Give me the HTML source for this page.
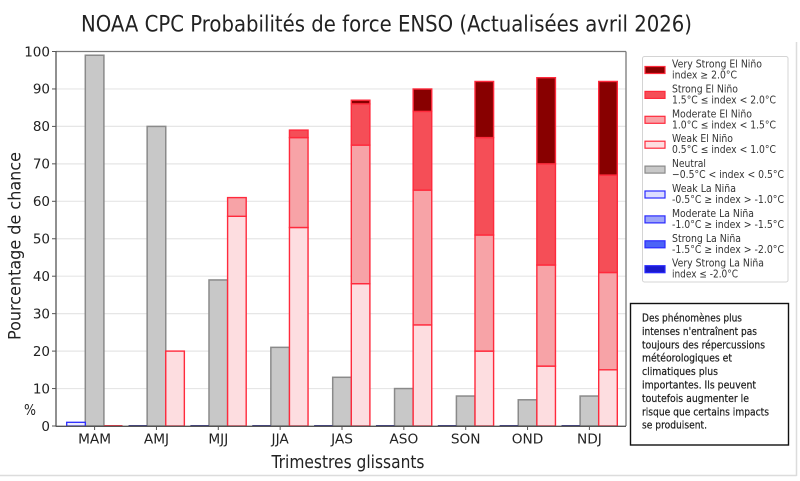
<!DOCTYPE html>
<html><head><meta charset="utf-8"><style>
html,body{margin:0;padding:0;background:#fff;}
svg{display:block;}
text{font-family:"DejaVu Sans","Liberation Sans",sans-serif;}
</style></head><body>
<svg width="800" height="481" viewBox="0 0 800 481" xmlns="http://www.w3.org/2000/svg">
<rect width="800" height="481" fill="#fff"/>
<!-- outer frame -->
<line x1="0" y1="475.5" x2="796.5" y2="475.5" stroke="#dcdcdc" stroke-width="1.5"/>
<line x1="796.5" y1="42" x2="796.5" y2="476" stroke="#dcdcdc" stroke-width="1.5"/>

<!-- title -->
<text x="81" y="31.5" font-size="22.5" fill="#222" textLength="611" lengthAdjust="spacingAndGlyphs" font-family="Liberation Sans, sans-serif">NOAA CPC Probabilités de force ENSO (Actualisées avril 2026)</text>

<!-- gridlines -->
<g stroke="#e6e6e6" stroke-width="1.2">
<line x1="56" x2="626" y1="388.55" y2="388.55"/>
<line x1="56" x2="626" y1="351.1" y2="351.1"/>
<line x1="56" x2="626" y1="313.65" y2="313.65"/>
<line x1="56" x2="626" y1="276.2" y2="276.2"/>
<line x1="56" x2="626" y1="238.75" y2="238.75"/>
<line x1="56" x2="626" y1="201.3" y2="201.3"/>
<line x1="56" x2="626" y1="163.85" y2="163.85"/>
<line x1="56" x2="626" y1="126.4" y2="126.4"/>
<line x1="56" x2="626" y1="88.95" y2="88.95"/>
</g>

<!-- neutral bars -->
<g fill="#c8c8c8" stroke="#8a8a8a" stroke-width="1.5">
<rect x="85.3" y="55.24" width="18.6" height="370.76"/>
<rect x="147.15" y="126.4" width="18.6" height="299.6"/>
<rect x="209.0" y="279.95" width="18.6" height="146.05"/>
<rect x="270.85" y="347.35" width="18.6" height="78.65"/>
<rect x="332.7" y="377.3" width="18.6" height="48.7"/>
<rect x="394.55" y="388.55" width="18.6" height="37.45"/>
<rect x="456.4" y="396.04" width="18.6" height="29.96"/>
<rect x="518.25" y="399.8" width="18.6" height="26.2"/>
<rect x="580.1" y="396.04" width="18.6" height="29.96"/>
</g>

<!-- La Nina -->
<rect x="66.7" y="422.3" width="18.6" height="3.7" fill="#eaeaff" stroke="#2a2aff" stroke-width="1.3"/>
<g stroke="#3b3b8e" stroke-width="2">
<line x1="128.55" x2="147.15" y1="426" y2="426"/>
<line x1="190.4" x2="209.0" y1="426" y2="426"/>
<line x1="252.25" x2="270.85" y1="426" y2="426"/>
<line x1="314.1" x2="332.7" y1="426" y2="426"/>
<line x1="375.95" x2="394.55" y1="426" y2="426"/>
<line x1="437.8" x2="456.4" y1="426" y2="426"/>
<line x1="499.65" x2="518.25" y1="426" y2="426"/>
<line x1="561.5" x2="580.1" y1="426" y2="426"/>
</g>
<line x1="103.9" x2="122.5" y1="426" y2="426" stroke="#ff3040" stroke-width="2"/>

<!-- El Nino stacks -->
<g stroke="#ff2a3c" stroke-width="1.4">
<!-- AMJ -->
<rect x="165.75" y="351.1" width="18.6" height="74.9" fill="#fddde0"/>
<!-- MJJ -->
<rect x="227.6" y="216.3" width="18.6" height="209.7" fill="#fddde0"/>
<rect x="227.6" y="197.6" width="18.6" height="18.7" fill="#f7a3a7"/>
<!-- JJA -->
<rect x="289.45" y="227.5" width="18.6" height="198.5" fill="#fddde0"/>
<rect x="289.45" y="137.6" width="18.6" height="89.9" fill="#f7a3a7"/>
<rect x="289.45" y="130.1" width="18.6" height="7.5" fill="#f54e57"/>
<!-- JAS -->
<rect x="351.3" y="283.7" width="18.6" height="142.3" fill="#fddde0"/>
<rect x="351.3" y="145.1" width="18.6" height="138.6" fill="#f7a3a7"/>
<rect x="351.3" y="103.9" width="18.6" height="41.2" fill="#f54e57"/>
<rect x="351.3" y="100.2" width="18.6" height="3.7" fill="#880000"/>
<!-- ASO -->
<rect x="413.15" y="324.9" width="18.6" height="101.1" fill="#fddde0"/>
<rect x="413.15" y="190.1" width="18.6" height="134.8" fill="#f7a3a7"/>
<rect x="413.15" y="111.4" width="18.6" height="78.7" fill="#f54e57"/>
<rect x="413.15" y="89.0" width="18.6" height="22.4" fill="#880000"/>
<!-- SON -->
<rect x="475.0" y="351.1" width="18.6" height="74.9" fill="#fddde0"/>
<rect x="475.0" y="235.0" width="18.6" height="116.1" fill="#f7a3a7"/>
<rect x="475.0" y="137.6" width="18.6" height="97.4" fill="#f54e57"/>
<rect x="475.0" y="81.46" width="18.6" height="56.14" fill="#880000"/>
<!-- OND -->
<rect x="536.85" y="366.1" width="18.6" height="59.9" fill="#fddde0"/>
<rect x="536.85" y="265.0" width="18.6" height="101.1" fill="#f7a3a7"/>
<rect x="536.85" y="163.85" width="18.6" height="101.15" fill="#f54e57"/>
<rect x="536.85" y="77.7" width="18.6" height="86.15" fill="#880000"/>
<!-- NDJ -->
<rect x="598.7" y="369.8" width="18.6" height="56.2" fill="#fddde0"/>
<rect x="598.7" y="272.5" width="18.6" height="97.3" fill="#f7a3a7"/>
<rect x="598.7" y="175.1" width="18.6" height="97.4" fill="#f54e57"/>
<rect x="598.7" y="81.46" width="18.6" height="93.64" fill="#880000"/>
</g>

<!-- spines -->
<line x1="56" y1="51.5" x2="626" y2="51.5" stroke="#7a7a7a" stroke-width="1.3"/>
<line x1="626" y1="51.5" x2="626" y2="426" stroke="#7a7a7a" stroke-width="1.3"/>
<line x1="56" y1="51" x2="56" y2="426.7" stroke="#555" stroke-width="1.3"/>
<line x1="56" y1="426.3" x2="626" y2="426.3" stroke="#555" stroke-width="1.3"/>

<!-- y ticks -->
<g stroke="#555" stroke-width="1">
<line x1="52" x2="56" y1="426" y2="426"/>
<line x1="52" x2="56" y1="388.55" y2="388.55"/>
<line x1="52" x2="56" y1="351.1" y2="351.1"/>
<line x1="52" x2="56" y1="313.65" y2="313.65"/>
<line x1="52" x2="56" y1="276.2" y2="276.2"/>
<line x1="52" x2="56" y1="238.75" y2="238.75"/>
<line x1="52" x2="56" y1="201.3" y2="201.3"/>
<line x1="52" x2="56" y1="163.85" y2="163.85"/>
<line x1="52" x2="56" y1="126.4" y2="126.4"/>
<line x1="52" x2="56" y1="88.95" y2="88.95"/>
<line x1="52" x2="56" y1="51.5" y2="51.5"/>
</g>
<g font-size="13.5" fill="#222" text-anchor="end">
<text x="50" y="430.8">0</text>
<text x="50" y="393.3">10</text>
<text x="50" y="355.9">20</text>
<text x="50" y="318.4">30</text>
<text x="50" y="281">40</text>
<text x="50" y="243.5">50</text>
<text x="50" y="206.1">60</text>
<text x="50" y="168.6">70</text>
<text x="50" y="131.2">80</text>
<text x="50" y="93.7">90</text>
<text x="50" y="56.3">100</text>
</g>

<!-- x ticks -->
<g stroke="#555" stroke-width="1">
<line x1="94.6" x2="94.6" y1="426" y2="430"/>
<line x1="156.45" x2="156.45" y1="426" y2="430"/>
<line x1="218.3" x2="218.3" y1="426" y2="430"/>
<line x1="280.15" x2="280.15" y1="426" y2="430"/>
<line x1="342" x2="342" y1="426" y2="430"/>
<line x1="403.85" x2="403.85" y1="426" y2="430"/>
<line x1="465.7" x2="465.7" y1="426" y2="430"/>
<line x1="527.55" x2="527.55" y1="426" y2="430"/>
<line x1="589.4" x2="589.4" y1="426" y2="430"/>
</g>
<g font-size="13.7" fill="#222" text-anchor="middle">
<text x="94.6" y="443.3">MAM</text>
<text x="156.45" y="443.3">AMJ</text>
<text x="218.3" y="443.3">MJJ</text>
<text x="280.15" y="443.3">JJA</text>
<text x="342" y="443.3">JAS</text>
<text x="403.85" y="443.3">ASO</text>
<text x="465.7" y="443.3">SON</text>
<text x="527.55" y="443.3">OND</text>
<text x="589.4" y="443.3">NDJ</text>
</g>

<!-- axis labels -->
<text x="271.5" y="468" font-size="17.5" fill="#222" textLength="153" lengthAdjust="spacingAndGlyphs">Trimestres glissants</text>
<text transform="translate(20.5,340) rotate(-90)" x="0" y="0" font-size="17" fill="#222" textLength="188" lengthAdjust="spacingAndGlyphs">Pourcentage de chance</text>
<text x="24" y="415" font-size="15" fill="#222" textLength="12" lengthAdjust="spacingAndGlyphs">%</text>

<!-- legend -->
<rect x="642.5" y="56.5" width="145.5" height="225.5" fill="#fff" stroke="#d4d4d4" stroke-width="1" rx="2"/>
<g stroke-width="1.2">
<rect x="645" y="66.5" width="20" height="7" fill="#880000" stroke="#ff2a3c"/>
<rect x="645" y="91.4" width="20" height="7" fill="#f54e57" stroke="#ff2a3c"/>
<rect x="645" y="116.3" width="20" height="7" fill="#f7a3a7" stroke="#ff2a3c"/>
<rect x="645" y="141.2" width="20" height="7" fill="#fddde0" stroke="#ff2a3c"/>
<rect x="645" y="166.1" width="20" height="7" fill="#c8c8c8" stroke="#8a8a8a"/>
<rect x="645" y="191" width="20" height="7" fill="#dcdcff" stroke="#2a2aff"/>
<rect x="645" y="215.9" width="20" height="7" fill="#9da6f7" stroke="#2a2aff"/>
<rect x="645" y="240.8" width="20" height="7" fill="#4b63f7" stroke="#2a2aff"/>
<rect x="645" y="265.7" width="20" height="7" fill="#1a1acc" stroke="#2a2aff"/>
</g>
<g font-size="10.5" fill="#333" font-family="Liberation Sans, sans-serif" lengthAdjust="spacingAndGlyphs">
<text x="672" y="67.5" textLength="90" lengthAdjust="spacingAndGlyphs">Very Strong El Niño</text>
<text x="672" y="78.5" textLength="65" lengthAdjust="spacingAndGlyphs">index ≥ 2.0°C</text>
<text x="672" y="92.4" textLength="66" lengthAdjust="spacingAndGlyphs">Strong El Niño</text>
<text x="672" y="103.4" textLength="104" lengthAdjust="spacingAndGlyphs">1.5°C ≤ index &lt; 2.0°C</text>
<text x="672" y="117.3" textLength="80" lengthAdjust="spacingAndGlyphs">Moderate El Niño</text>
<text x="672" y="128.3" textLength="104" lengthAdjust="spacingAndGlyphs">1.0°C ≤ index &lt; 1.5°C</text>
<text x="672" y="142.2" textLength="61" lengthAdjust="spacingAndGlyphs">Weak El Niño</text>
<text x="672" y="153.2" textLength="104" lengthAdjust="spacingAndGlyphs">0.5°C ≤ index &lt; 1.0°C</text>
<text x="672" y="167.1" textLength="34" lengthAdjust="spacingAndGlyphs">Neutral</text>
<text x="672" y="178.1" textLength="112" lengthAdjust="spacingAndGlyphs">−0.5°C &lt; index &lt; 0.5°C</text>
<text x="672" y="192" textLength="64" lengthAdjust="spacingAndGlyphs">Weak La Niña</text>
<text x="672" y="203" textLength="112" lengthAdjust="spacingAndGlyphs">-0.5°C ≥ index &gt; -1.0°C</text>
<text x="672" y="216.9" textLength="82" lengthAdjust="spacingAndGlyphs">Moderate La Niña</text>
<text x="672" y="227.9" textLength="112" lengthAdjust="spacingAndGlyphs">-1.0°C ≥ index &gt; -1.5°C</text>
<text x="672" y="241.8" textLength="69" lengthAdjust="spacingAndGlyphs">Strong La Niña</text>
<text x="672" y="252.8" textLength="112" lengthAdjust="spacingAndGlyphs">-1.5°C ≥ index &gt; -2.0°C</text>
<text x="672" y="266.7" textLength="92" lengthAdjust="spacingAndGlyphs">Very Strong La Niña</text>
<text x="672" y="277.7" textLength="66" lengthAdjust="spacingAndGlyphs">index ≤ -2.0°C</text>
</g>

<!-- note box -->
<rect x="630.5" y="303.5" width="158" height="141.5" fill="#fff" stroke="#111" stroke-width="1.4"/>
<g font-size="10.5" fill="#1a1a1a" font-family="Liberation Sans, sans-serif" stroke="#1a1a1a" stroke-width="0.2">
<text x="642" y="321.5" textLength="100" lengthAdjust="spacingAndGlyphs">Des phénomènes plus</text>
<text x="642" y="334.9" textLength="115" lengthAdjust="spacingAndGlyphs">intenses n'entraînent pas</text>
<text x="642" y="348.3" textLength="123" lengthAdjust="spacingAndGlyphs">toujours des répercussions</text>
<text x="642" y="361.7" textLength="90" lengthAdjust="spacingAndGlyphs">météorologiques et</text>
<text x="642" y="375.1" textLength="76" lengthAdjust="spacingAndGlyphs">climatiques plus</text>
<text x="642" y="388.5" textLength="114" lengthAdjust="spacingAndGlyphs">importantes. Ils peuvent</text>
<text x="642" y="401.9" textLength="107" lengthAdjust="spacingAndGlyphs">toutefois augmenter le</text>
<text x="642" y="415.3" textLength="127" lengthAdjust="spacingAndGlyphs">risque que certains impacts</text>
<text x="642" y="428.7" textLength="65" lengthAdjust="spacingAndGlyphs">se produisent.</text>
</g>
</svg>
</body></html>
